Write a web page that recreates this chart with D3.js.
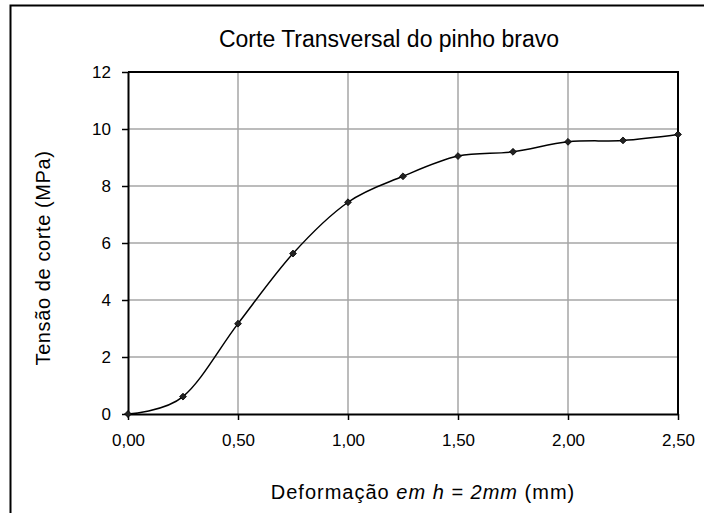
<!DOCTYPE html>
<html>
<head>
<meta charset="utf-8">
<script src="https://cdn.jsdelivr.net/npm/d3@7"></script>
<style>
  html, body { margin: 0; padding: 0; background: #fff; }
  svg { display: block; font-family: "Liberation Sans", Arial, sans-serif; }
</style>
</head>
<body>
<svg id="chart" width="704" height="513"></svg>
<script>
// Deformation (mm) and shear stress (MPa) readings
const deformacao = [0, 0.25, 0.5, 0.75, 1.0, 1.25, 1.5, 1.75, 2.0, 2.25, 2.5];
const tensao = [0, 0.61, 3.17, 5.63, 7.43, 8.34, 9.05, 9.2, 9.55, 9.6, 9.81];
const xTicks = [0, 0.5, 1.0, 1.5, 2.0, 2.5];
const yTicks = [0, 2, 4, 6, 8, 10, 12];
const titulo = "Corte Transversal do pinho bravo";

const svg = d3.select("#chart");
const W = 704, H = 513;
const m = { left: 128, right: 678, top: 72, bottom: 414 };

// outer frame (runs off the right and bottom edges)
svg.append("path")
  .attr("d", `M10.5,${H + 2} V5.5 H${W + 2}`)
  .attr("fill", "none").attr("stroke", "#000").attr("stroke-width", 2);

const x = d3.scaleLinear().domain([0, 2.5]).range([m.left, m.right]);
const y = d3.scaleLinear().domain([0, 12]).range([m.bottom, m.top]);
const fmt = d => d.toFixed(2).replace(".", ",");

// grid
const grid = svg.append("g").attr("stroke", "#a6a6a6").attr("stroke-width", 1.5);
grid.selectAll(".gx").data(xTicks.slice(1)).join("line")
  .attr("x1", d => x(d)).attr("x2", d => x(d))
  .attr("y1", m.top).attr("y2", m.bottom);
grid.selectAll(".gy").data(yTicks.slice(1)).join("line")
  .attr("x1", m.left).attr("x2", m.right)
  .attr("y1", d => y(d)).attr("y2", d => y(d));

// plot-area top and right edges
svg.append("path")
  .attr("d", `M${m.left},${m.top} H${m.right} V${m.bottom}`)
  .attr("fill", "none").attr("stroke", "#000").attr("stroke-width", 2);

// axes
const xAxis = svg.append("g").attr("transform", `translate(0,${m.bottom})`)
  .call(d3.axisBottom(x).tickValues(xTicks).tickFormat(fmt).tickSizeInner(6).tickSizeOuter(0).tickPadding(14));
const yAxis = svg.append("g").attr("transform", `translate(${m.left},0)`)
  .call(d3.axisLeft(y).tickValues(yTicks).tickSizeInner(6).tickSizeOuter(0).tickPadding(11));
[xAxis, yAxis].forEach(a => {
  a.select(".domain").attr("stroke", "#000").attr("stroke-width", 2);
  a.selectAll(".tick line").attr("stroke", "#000").attr("stroke-width", 1.5);
  a.selectAll(".tick text").attr("fill", "#000")
    .style("font-family", "'Liberation Sans', Arial, sans-serif").style("font-size", "17px");
});

// smoothed series line
const pts = deformacao.map((d, i) => [d, tensao[i]]);
svg.append("path")
  .datum(pts)
  .attr("fill", "none").attr("stroke", "#000").attr("stroke-width", 1.5)
  .attr("d", d3.line().x(d => x(d[0])).y(d => y(d[1])).curve(d3.curveCardinal.tension(0)));

// diamond markers
svg.append("g").selectAll("path").data(pts).join("path")
  .attr("transform", d => `translate(${x(d[0])},${y(d[1])})`)
  .attr("d", d3.symbol(d3.symbolDiamond2, 30))
  .attr("fill", "#222").attr("stroke", "#000").attr("stroke-width", 0.8);

// title
svg.append("text")
  .attr("x", 389).attr("y", 47).attr("text-anchor", "middle")
  .style("font-size", "23px").attr("fill", "#000")
  .text(titulo);

// y-axis title
svg.append("text")
  .attr("transform", `translate(50,258) rotate(-90)`)
  .attr("text-anchor", "middle")
  .style("font-size", "20px").style("letter-spacing", "0.6px").attr("fill", "#000")
  .text("Tensão de corte (MPa)");

// x-axis title with italic part
const xt = svg.append("text")
  .attr("x", 423).attr("y", 499).attr("text-anchor", "middle")
  .style("font-size", "20px").style("letter-spacing", "1px").attr("fill", "#000");
xt.append("tspan").text("Deformação ");
xt.append("tspan").style("font-style", "italic").text("em h = 2mm");
xt.append("tspan").text(" (mm)");
</script>
</body>
</html>
